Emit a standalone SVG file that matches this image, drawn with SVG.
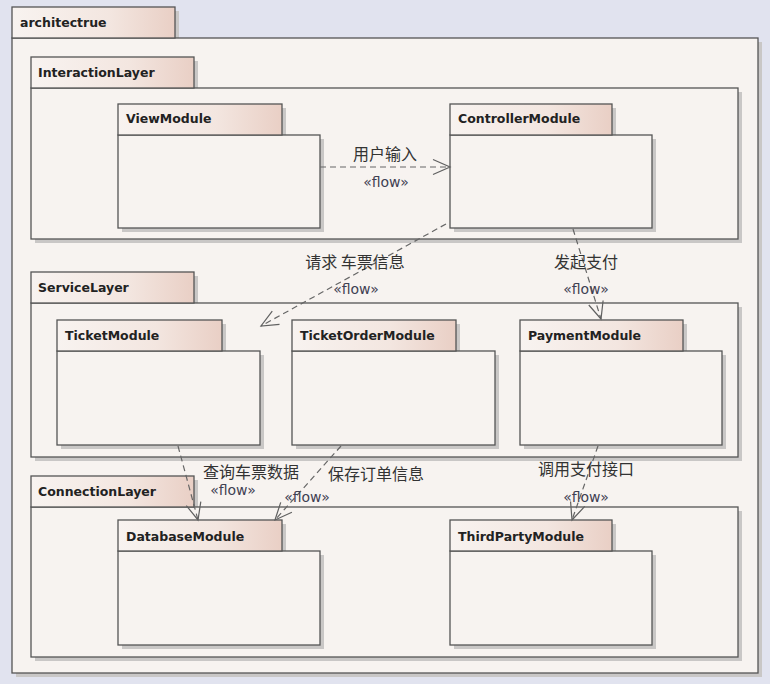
<svg xmlns="http://www.w3.org/2000/svg" width="770" height="684" viewBox="0 0 770 684">
<defs>
<linearGradient id="tab" x1="0" y1="0" x2="1" y2="0">
<stop offset="0" stop-color="#f8f3f0"/>
<stop offset="0.6" stop-color="#f3e6e0"/>
<stop offset="1" stop-color="#e9cfc5"/>
</linearGradient>
<marker id="arr" viewBox="0 0 20 20" refX="18" refY="10" markerWidth="20" markerHeight="20" markerUnits="userSpaceOnUse" orient="auto">
<path d="M1,2.5 L18,10 L1,17.5" fill="none" stroke="#606060" stroke-width="1.2"/>
</marker>
<style>
.bg{fill:#e1e3ef}
.sh{fill:#c9c7c6}
.body{fill:#f7f3f0;stroke:#555;stroke-width:1.3}
.tab{fill:url(#tab);stroke:#555;stroke-width:1.3}
.ttl{font-family:"DejaVu Sans","Liberation Sans",sans-serif;font-weight:bold;font-size:12.5px;fill:#222}
.lbl{font-family:"Noto Sans CJK SC","Noto Sans",sans-serif;font-size:16px;fill:#333}
.flw{font-family:"DejaVu Sans","Noto Sans",sans-serif;font-size:14px;fill:#3e4052}
.con{fill:none;stroke:#666;stroke-width:1.2;stroke-dasharray:6,4}
</style>
</defs>
<rect class="bg" x="0" y="0" width="770" height="684"/>

<g id="architectrue">
<rect class="sh" x="16" y="42" width="746" height="635"/>
<rect class="sh" x="175" y="11" width="4" height="27"/>
<rect class="body" x="12" y="38" width="746" height="635"/>
<rect class="tab" x="12" y="7" width="163" height="31"/>
<text class="ttl" x="20" y="27">architectrue</text>
</g>

<g id="InteractionLayer">
<rect class="sh" x="35" y="92" width="707" height="151"/>
<rect class="sh" x="194" y="61" width="4" height="27"/>
<rect class="body" x="31" y="88" width="707" height="151"/>
<rect class="tab" x="31" y="57" width="163" height="31"/>
<text class="ttl" x="38" y="77">InteractionLayer</text>
</g>

<g id="ViewModule">
<rect class="sh" x="122" y="139" width="202" height="93"/>
<rect class="sh" x="282" y="108" width="4" height="27"/>
<rect class="body" x="118" y="135" width="202" height="93"/>
<rect class="tab" x="118" y="104" width="164" height="31"/>
<text class="ttl" x="126" y="123">ViewModule</text>
</g>

<g id="ControllerModule">
<rect class="sh" x="454" y="139" width="202" height="93"/>
<rect class="sh" x="612" y="108" width="4" height="27"/>
<rect class="body" x="450" y="135" width="202" height="93"/>
<rect class="tab" x="450" y="104" width="162" height="31"/>
<text class="ttl" x="458" y="123">ControllerModule</text>
</g>

<g id="ServiceLayer">
<rect class="sh" x="35" y="307" width="707" height="154"/>
<rect class="sh" x="194" y="276" width="4" height="27"/>
<rect class="body" x="31" y="303" width="707" height="154"/>
<rect class="tab" x="31" y="272" width="163" height="31"/>
<text class="ttl" x="38" y="292">ServiceLayer</text>
</g>

<g id="TicketModule">
<rect class="sh" x="61" y="355" width="203" height="94"/>
<rect class="sh" x="222" y="324" width="4" height="27"/>
<rect class="body" x="57" y="351" width="203" height="94"/>
<rect class="tab" x="57" y="320" width="165" height="31"/>
<text class="ttl" x="65" y="340">TicketModule</text>
</g>

<g id="TicketOrderModule">
<rect class="sh" x="296" y="355" width="203" height="94"/>
<rect class="sh" x="456" y="324" width="4" height="27"/>
<rect class="body" x="292" y="351" width="203" height="94"/>
<rect class="tab" x="292" y="320" width="164" height="31"/>
<text class="ttl" x="300" y="340">TicketOrderModule</text>
</g>

<g id="PaymentModule">
<rect class="sh" x="524" y="355" width="202" height="94"/>
<rect class="sh" x="683" y="324" width="4" height="27"/>
<rect class="body" x="520" y="351" width="202" height="94"/>
<rect class="tab" x="520" y="320" width="163" height="31"/>
<text class="ttl" x="528" y="340">PaymentModule</text>
</g>

<g id="ConnectionLayer">
<rect class="sh" x="35" y="511" width="707" height="150"/>
<rect class="sh" x="194" y="480" width="4" height="27"/>
<rect class="body" x="31" y="507" width="707" height="150"/>
<rect class="tab" x="31" y="476" width="163" height="31"/>
<text class="ttl" x="38" y="496">ConnectionLayer</text>
</g>

<g id="DatabaseModule">
<rect class="sh" x="122" y="555" width="202" height="94"/>
<rect class="sh" x="282" y="524" width="4" height="27"/>
<rect class="body" x="118" y="551" width="202" height="94"/>
<rect class="tab" x="118" y="520" width="164" height="31"/>
<text class="ttl" x="126" y="541">DatabaseModule</text>
</g>

<g id="ThirdPartyModule">
<rect class="sh" x="454" y="555" width="202" height="94"/>
<rect class="sh" x="612" y="524" width="4" height="27"/>
<rect class="body" x="450" y="551" width="202" height="94"/>
<rect class="tab" x="450" y="520" width="162" height="31"/>
<text class="ttl" x="458" y="541">ThirdPartyModule</text>
</g>

<g id="connectors">
<path class="con" d="M320,167 L450,167" marker-end="url(#arr)"/>
<path class="con" d="M446,224 L261,326" marker-end="url(#arr)"/>
<path class="con" d="M573,229 L601,319" marker-end="url(#arr)"/>
<path class="con" d="M178,446 L198,520" marker-end="url(#arr)"/>
<path class="con" d="M341,446 L275,520" marker-end="url(#arr)"/>
<path class="con" d="M598,446 L572,520" marker-end="url(#arr)"/>
<text class="lbl" x="385" y="160" text-anchor="middle">用户输入</text>
<text class="flw" x="386" y="187" text-anchor="middle">«flow»</text>
<text class="lbl" x="355" y="268" text-anchor="middle">请求 车票信息</text>
<text class="flw" x="356" y="294" text-anchor="middle">«flow»</text>
<text class="lbl" x="586" y="268" text-anchor="middle">发起支付</text>
<text class="flw" x="586" y="294" text-anchor="middle">«flow»</text>
<text class="lbl" x="251" y="478" text-anchor="middle">查询车票数据</text>
<text class="flw" x="233" y="495" text-anchor="middle">«flow»</text>
<text class="lbl" x="376" y="480" text-anchor="middle">保存订单信息</text>
<text class="flw" x="307" y="502" text-anchor="middle">«flow»</text>
<text class="lbl" x="586" y="475" text-anchor="middle">调用支付接口</text>
<text class="flw" x="586" y="502" text-anchor="middle">«flow»</text>
</g>
</svg>
